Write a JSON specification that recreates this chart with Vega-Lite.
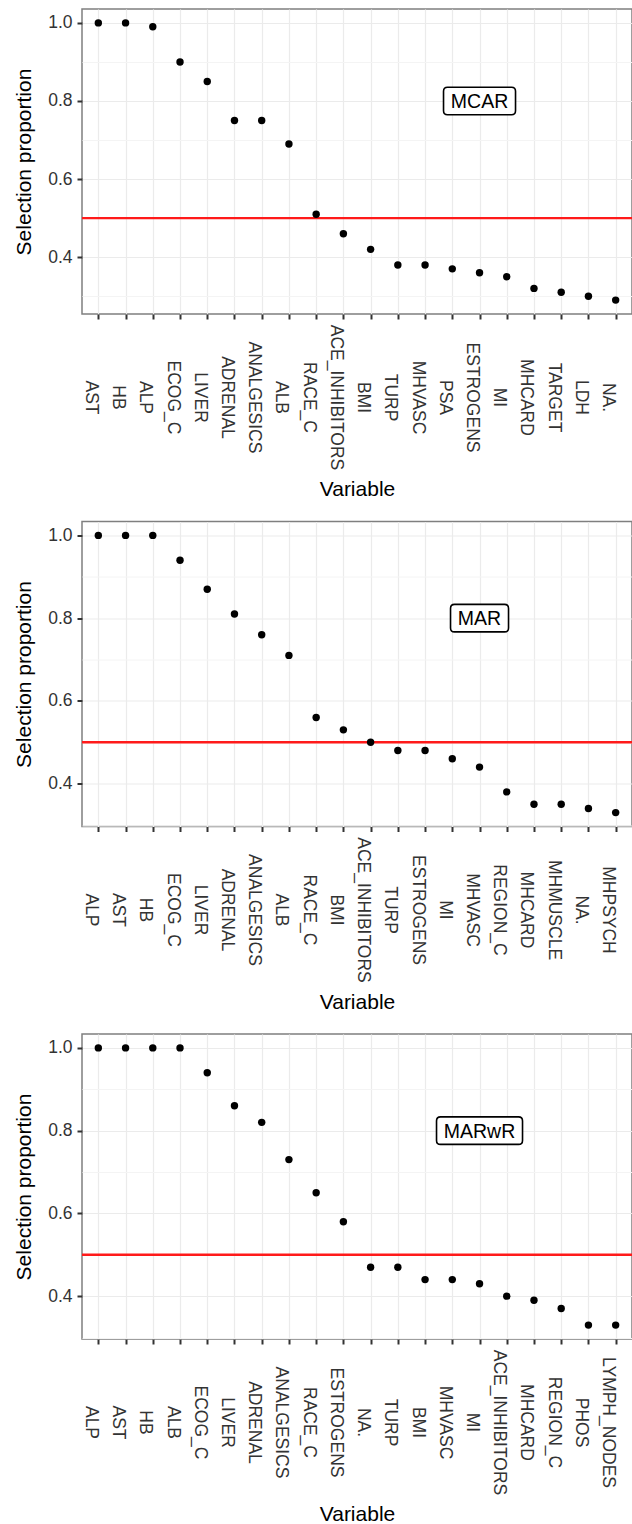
{
  "$schema": "https://vega.github.io/schema/vega-lite/v6.json",
  "padding": {"left": 12, "top": 8, "right": 1, "bottom": 0},
  "background": "white",
  "spacing": 19.5,
  "config": {
    "font": "Liberation Sans",
    "view": {"stroke": "#7F7F7F", "strokeWidth": 1.5},
    "axis": {
      "titleFontSize": 21,
      "titleFontWeight": "normal",
      "titleColor": "black",
      "titleFont": "Liberation Sans",
      "labelFont": "Liberation Sans",
      "labelFontSize": 17.5,
      "labelColor": "#333333",
      "tickSize": 5,
      "tickWidth": 2,
      "tickColor": "#333333",
      "gridColor": "#EBEBEB",
      "gridWidth": 1.2,
      "domain": false,
      "labelFlush": false,
      "labelBound": false,
      "labelOverlap": false
    },
    "axisX": {
      "titlePadding": 9,
      "labelAngle": 90,
      "labelAlign": "center",
      "labelBaseline": "top",
      "labelPadding": 78,
      "labelOffset": 1,
      "grid": true
    }
  },
  "datasets": {
    "MCAR": [
      {"Variable": "AST", "Proportion": 1.0},
      {"Variable": "HB", "Proportion": 1.0},
      {"Variable": "ALP", "Proportion": 0.99},
      {"Variable": "ECOG_C", "Proportion": 0.90},
      {"Variable": "LIVER", "Proportion": 0.85},
      {"Variable": "ADRENAL", "Proportion": 0.75},
      {"Variable": "ANALGESICS", "Proportion": 0.75},
      {"Variable": "ALB", "Proportion": 0.69},
      {"Variable": "RACE_C", "Proportion": 0.51},
      {"Variable": "ACE_INHIBITORS", "Proportion": 0.46},
      {"Variable": "BMI", "Proportion": 0.42},
      {"Variable": "TURP", "Proportion": 0.38},
      {"Variable": "MHVASC", "Proportion": 0.38},
      {"Variable": "PSA", "Proportion": 0.37},
      {"Variable": "ESTROGENS", "Proportion": 0.36},
      {"Variable": "MI", "Proportion": 0.35},
      {"Variable": "MHCARD", "Proportion": 0.32},
      {"Variable": "TARGET", "Proportion": 0.31},
      {"Variable": "LDH", "Proportion": 0.30},
      {"Variable": "NA.", "Proportion": 0.29}
    ],
    "MAR": [
      {"Variable": "ALP", "Proportion": 1.0},
      {"Variable": "AST", "Proportion": 1.0},
      {"Variable": "HB", "Proportion": 1.0},
      {"Variable": "ECOG_C", "Proportion": 0.94},
      {"Variable": "LIVER", "Proportion": 0.87},
      {"Variable": "ADRENAL", "Proportion": 0.81},
      {"Variable": "ANALGESICS", "Proportion": 0.76},
      {"Variable": "ALB", "Proportion": 0.71},
      {"Variable": "RACE_C", "Proportion": 0.56},
      {"Variable": "BMI", "Proportion": 0.53},
      {"Variable": "ACE_INHIBITORS", "Proportion": 0.50},
      {"Variable": "TURP", "Proportion": 0.48},
      {"Variable": "ESTROGENS", "Proportion": 0.48},
      {"Variable": "MI", "Proportion": 0.46},
      {"Variable": "MHVASC", "Proportion": 0.44},
      {"Variable": "REGION_C", "Proportion": 0.38},
      {"Variable": "MHCARD", "Proportion": 0.35},
      {"Variable": "MHMUSCLE", "Proportion": 0.35},
      {"Variable": "NA.", "Proportion": 0.34},
      {"Variable": "MHPSYCH", "Proportion": 0.33}
    ],
    "MARwR": [
      {"Variable": "ALP", "Proportion": 1.0},
      {"Variable": "AST", "Proportion": 1.0},
      {"Variable": "HB", "Proportion": 1.0},
      {"Variable": "ALB", "Proportion": 1.0},
      {"Variable": "ECOG_C", "Proportion": 0.94},
      {"Variable": "LIVER", "Proportion": 0.86},
      {"Variable": "ADRENAL", "Proportion": 0.82},
      {"Variable": "ANALGESICS", "Proportion": 0.73},
      {"Variable": "RACE_C", "Proportion": 0.65},
      {"Variable": "ESTROGENS", "Proportion": 0.58},
      {"Variable": "NA.", "Proportion": 0.47},
      {"Variable": "TURP", "Proportion": 0.47},
      {"Variable": "BMI", "Proportion": 0.44},
      {"Variable": "MHVASC", "Proportion": 0.44},
      {"Variable": "MI", "Proportion": 0.43},
      {"Variable": "ACE_INHIBITORS", "Proportion": 0.40},
      {"Variable": "MHCARD", "Proportion": 0.39},
      {"Variable": "REGION_C", "Proportion": 0.37},
      {"Variable": "PHOS", "Proportion": 0.33},
      {"Variable": "LYMPH_NODES", "Proportion": 0.33}
    ],
    "threshold": [{"threshold": 0.5}]
  },
  "vconcat": [
    {
      "width": 550,
      "height": 305,
      "data": {"name": "MCAR"},
      "layer": [
        {
          "data": {"name": "threshold"},
          "mark": {"type": "rule", "color": "#FF1A1A", "strokeWidth": 2.4},
          "encoding": {
            "y": {"field": "threshold", "type": "quantitative",
              "axis": {"orient": "right", "values": [0.3, 0.5, 0.7, 0.9], "grid": true, "gridColor": "#F4F4F4", "gridWidth": 1, "labels": false, "ticks": false, "domain": false, "title": null}}
          }
        },
        {
          "mark": {"type": "point", "filled": true, "color": "black", "size": 55, "opacity": 1},
          "encoding": {
            "x": {"field": "Variable", "type": "nominal", "sort": null,
              "scale": {"type": "point", "padding": 0.6}, "axis": {"title": "Variable"}},
            "y": {"field": "Proportion", "type": "quantitative",
              "scale": {"zero": false, "nice": false, "padding": 13.9},
              "axis": {"title": "Selection proportion", "titlePadding": 13, "values": [0.4, 0.6, 0.8, 1.0], "format": ".1f", "labelPadding": 5, "grid": true}}
          }
        },
        {
          "transform": [{"filter": "datum.Variable === 'ESTROGENS'"}],
          "mark": {"type": "point", "shape": "M -0.889 -0.382 L 0.889 -0.382 Q 1 -0.382 1 -0.271 L 1 0.271 Q 1 0.382 0.889 0.382 L -0.889 0.382 Q -1 0.382 -1 0.271 L -1 -0.271 Q -1 -0.382 -0.889 -0.382 Z", "size": 5184, "filled": true, "fill": "white", "stroke": "black", "strokeWidth": 1.6, "opacity": 1},
          "encoding": {
            "x": {"field": "Variable", "type": "nominal", "sort": null, "axis": {"title": "Variable"}},
            "y": {"datum": 0.8, "axis": null}
          }
        },
        {
          "transform": [{"filter": "datum.Variable === 'ESTROGENS'"}],
          "mark": {"type": "text", "text": "MCAR", "fontSize": 19.5, "color": "black", "align": "center", "baseline": "middle", "dy": 1},
          "encoding": {
            "x": {"field": "Variable", "type": "nominal", "sort": null, "axis": {"title": "Variable"}},
            "y": {"datum": 0.8, "axis": null}
          }
        }
      ],
      "resolve": {"axis": {"y": "independent"}}
    },
    {
      "width": 550,
      "height": 305,
      "data": {"name": "MAR"},
      "layer": [
        {
          "data": {"name": "threshold"},
          "mark": {"type": "rule", "color": "#FF1A1A", "strokeWidth": 2.4},
          "encoding": {
            "y": {"field": "threshold", "type": "quantitative",
              "axis": {"orient": "right", "values": [0.3, 0.5, 0.7, 0.9], "grid": true, "gridColor": "#F4F4F4", "gridWidth": 1, "labels": false, "ticks": false, "domain": false, "title": null}}
          }
        },
        {
          "mark": {"type": "point", "filled": true, "color": "black", "size": 55, "opacity": 1},
          "encoding": {
            "x": {"field": "Variable", "type": "nominal", "sort": null,
              "scale": {"type": "point", "padding": 0.6}, "axis": {"title": "Variable"}},
            "y": {"field": "Proportion", "type": "quantitative",
              "scale": {"zero": false, "nice": false, "padding": 13.9},
              "axis": {"title": "Selection proportion", "titlePadding": 13, "values": [0.4, 0.6, 0.8, 1.0], "format": ".1f", "labelPadding": 5, "grid": true}}
          }
        },
        {
          "transform": [{"filter": "datum.Variable === 'MHVASC'"}],
          "mark": {"type": "point", "shape": "M -0.862 -0.474 L 0.862 -0.474 Q 1 -0.474 1 -0.336 L 1 0.336 Q 1 0.474 0.862 0.474 L -0.862 0.474 Q -1 0.474 -1 0.336 L -1 -0.336 Q -1 -0.474 -0.862 -0.474 Z", "size": 3364, "filled": true, "fill": "white", "stroke": "black", "strokeWidth": 1.6, "opacity": 1},
          "encoding": {
            "x": {"field": "Variable", "type": "nominal", "sort": null, "axis": {"title": "Variable"}},
            "y": {"datum": 0.8, "axis": null}
          }
        },
        {
          "transform": [{"filter": "datum.Variable === 'MHVASC'"}],
          "mark": {"type": "text", "text": "MAR", "fontSize": 19.5, "color": "black", "align": "center", "baseline": "middle", "dy": 1},
          "encoding": {
            "x": {"field": "Variable", "type": "nominal", "sort": null, "axis": {"title": "Variable"}},
            "y": {"datum": 0.8, "axis": null}
          }
        }
      ],
      "resolve": {"axis": {"y": "independent"}}
    },
    {
      "width": 550,
      "height": 305,
      "data": {"name": "MARwR"},
      "layer": [
        {
          "data": {"name": "threshold"},
          "mark": {"type": "rule", "color": "#FF1A1A", "strokeWidth": 2.4},
          "encoding": {
            "y": {"field": "threshold", "type": "quantitative",
              "axis": {"orient": "right", "values": [0.3, 0.5, 0.7, 0.9], "grid": true, "gridColor": "#F4F4F4", "gridWidth": 1, "labels": false, "ticks": false, "domain": false, "title": null}}
          }
        },
        {
          "mark": {"type": "point", "filled": true, "color": "black", "size": 55, "opacity": 1},
          "encoding": {
            "x": {"field": "Variable", "type": "nominal", "sort": null,
              "scale": {"type": "point", "padding": 0.6}, "axis": {"title": "Variable"}},
            "y": {"field": "Proportion", "type": "quantitative",
              "scale": {"zero": false, "nice": false, "padding": 13.9},
              "axis": {"title": "Selection proportion", "titlePadding": 13, "values": [0.4, 0.6, 0.8, 1.0], "format": ".1f", "labelPadding": 5, "grid": true}}
          }
        },
        {
          "transform": [{"filter": "datum.Variable === 'MI'"}],
          "mark": {"type": "point", "shape": "M -0.907 -0.32 L 0.907 -0.32 Q 1 -0.32 1 -0.227 L 1 0.227 Q 1 0.32 0.907 0.32 L -0.907 0.32 Q -1 0.32 -1 0.227 L -1 -0.227 Q -1 -0.32 -0.907 -0.32 Z", "size": 7396, "filled": true, "fill": "white", "stroke": "black", "strokeWidth": 1.6, "opacity": 1},
          "encoding": {
            "x": {"field": "Variable", "type": "nominal", "sort": null, "axis": {"title": "Variable"}},
            "y": {"datum": 0.8, "axis": null}
          }
        },
        {
          "transform": [{"filter": "datum.Variable === 'MI'"}],
          "mark": {"type": "text", "text": "MARwR", "fontSize": 19.5, "color": "black", "align": "center", "baseline": "middle", "dy": 1},
          "encoding": {
            "x": {"field": "Variable", "type": "nominal", "sort": null, "axis": {"title": "Variable"}},
            "y": {"datum": 0.8, "axis": null}
          }
        }
      ],
      "resolve": {"axis": {"y": "independent"}}
    }
  ]
}
